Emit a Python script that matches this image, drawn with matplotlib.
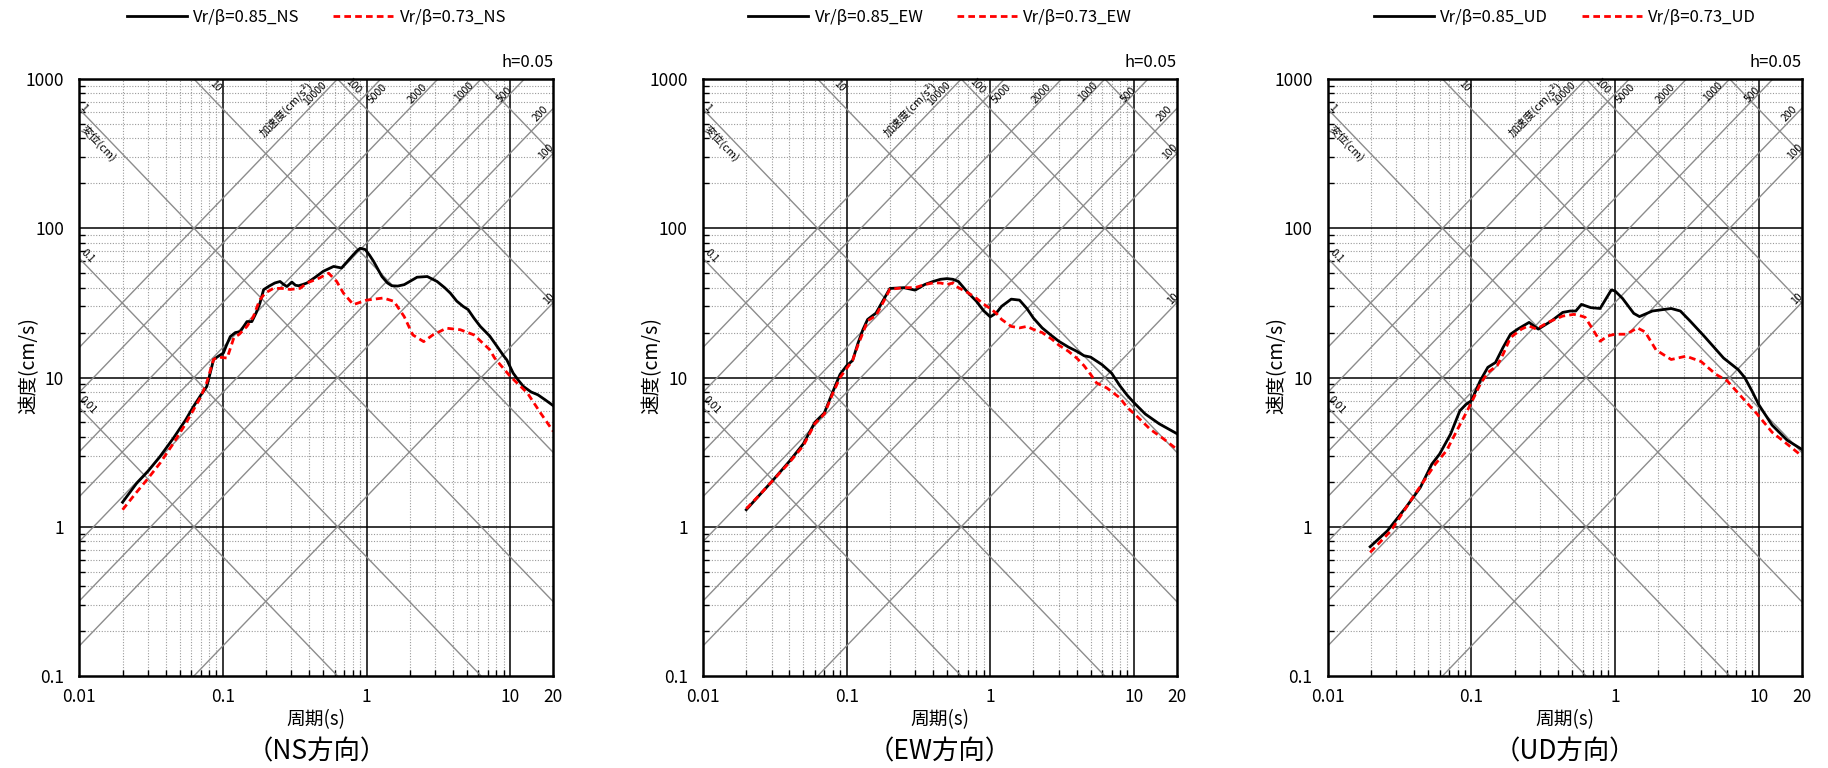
# %%
import matplotlib.pyplot as plt
import numpy as np
from matplotlib.ticker import FixedLocator, NullFormatter

plt.rcParams['font.family'] = ['Noto Sans CJK JP', 'DejaVu Sans']

OUTPUT_PNG = "out.png"

# ---- spectra (period s, velocity cm/s) ----
ns_085_t = [0.02, 0.025, 0.03, 0.0365, 0.045, 0.055, 0.0624, 0.07, 0.0772, 0.0861, 0.093, 0.1008,
            0.106, 0.1125, 0.122, 0.132, 0.147, 0.159, 0.17, 0.181, 0.192, 0.21, 0.23, 0.25, 0.265,
            0.279, 0.302, 0.32, 0.336, 0.36, 0.385, 0.44, 0.50, 0.59, 0.67, 0.77, 0.85, 0.905, 0.98,
            1.05, 1.12, 1.28, 1.4, 1.5, 1.65, 1.83, 2.0, 2.25, 2.65, 3.1, 3.5, 3.83, 4.25, 4.7, 5.1,
            5.6, 6.2, 7.2, 8.1, 9.0, 9.5, 10.5, 11.5, 12.4, 14.0, 15.6, 17.5, 20.0]
ns_085_v = [1.46, 1.95, 2.35, 2.96, 3.9, 5.2, 6.4, 7.6, 8.7, 13.2, 13.9, 14.6,
            16.5, 18.8, 20.0, 20.3, 23.7, 23.7, 27.0, 31.5, 38.8, 41.0, 43.0, 44.0, 42.0,
            40.7, 43.6, 41.5, 41.2, 42.0, 43.0, 47.0, 51.5, 55.5, 54.2, 63.0, 70.0, 73.5, 72.0,
            66.0, 60.0, 47.5, 43.0, 41.2, 41.0, 41.9, 44.0, 47.0, 47.5, 44.0, 40.0, 36.8, 32.5, 30.0, 28.5,
            25.0, 22.0, 19.0, 16.2, 14.0, 13.1, 10.7, 9.5, 8.7, 8.0, 7.66, 7.1, 6.47]

ns_073_t = [0.02, 0.025, 0.03, 0.0365, 0.045, 0.055, 0.0624, 0.07, 0.077, 0.086, 0.093, 0.107,
            0.119, 0.13, 0.147, 0.163, 0.18, 0.197, 0.225, 0.26, 0.294, 0.345, 0.385, 0.47, 0.545,
            0.62, 0.69, 0.81, 1.0, 1.31, 1.55, 1.83, 2.1, 2.5, 2.9, 3.6, 4.5, 5.6, 7.2, 7.8, 10.0,
            13.2, 16.3, 20.0]
ns_073_v = [1.30, 1.7, 2.1, 2.67, 3.6, 4.9, 6.08, 7.4, 9.2, 13.2, 13.7, 13.5,
            18.4, 19.5, 22.0, 25.6, 33.0, 36.8, 39.6, 39.5, 38.9, 39.6, 43.0, 46.4, 50.0,
            44.0, 36.8, 30.8, 33.0, 34.1, 32.4, 25.6, 19.3, 17.4, 19.3, 21.4, 20.9, 19.3, 15.4, 13.5, 10.2,
            7.87, 5.78, 4.35]

ew_085_t = [0.02, 0.025, 0.03, 0.04, 0.05, 0.06, 0.07, 0.08, 0.09, 0.1, 0.11, 0.12, 0.13, 0.14,
            0.16, 0.18, 0.2, 0.25, 0.3, 0.35, 0.4, 0.45, 0.5, 0.55, 0.6, 0.7, 0.8, 0.9, 1.0, 1.1,
            1.2, 1.4, 1.6, 1.8, 2.0, 2.3, 2.6, 3.0, 3.5, 4.0, 4.5, 5.0, 6.0, 7.0, 8.0, 9.0, 10.0,
            12.0, 15.0, 20.0]
ew_085_v = [1.30, 1.65, 2.0, 2.75, 3.6, 5.0, 5.8, 8.0, 10.5, 12.0, 13.0, 17.0, 21.0, 24.5,
            27.0, 33.0, 39.5, 40.0, 38.5, 42.0, 44.0, 45.5, 46.0, 45.5, 44.0, 37.0, 32.5, 28.0, 25.5, 27.0,
            30.0, 33.5, 33.0, 29.0, 25.0, 21.5, 19.5, 17.5, 16.0, 15.0, 14.0, 13.7, 12.2, 10.7, 8.8, 7.6, 6.8,
            5.7, 4.9, 4.2]

ew_073_t = [0.02, 0.025, 0.03, 0.04, 0.05, 0.06, 0.07, 0.08, 0.09, 0.1, 0.11, 0.12, 0.13, 0.14,
            0.16, 0.18, 0.2, 0.25, 0.3, 0.35, 0.4, 0.45, 0.5, 0.55, 0.6, 0.7, 0.8, 0.9, 1.0, 1.1,
            1.2, 1.4, 1.6, 1.8, 2.0, 2.3, 2.7, 3.0, 3.5, 4.0, 4.5, 5.0, 5.5, 6.5, 8.0, 9.0, 10.5,
            13.0, 16.0, 20.0]
ew_073_v = [1.32, 1.65, 2.0, 2.7, 3.5, 4.9, 5.7, 7.8, 10.0, 11.5, 13.0, 16.5, 20.0, 24.0,
            26.0, 32.0, 39.0, 40.0, 40.0, 42.0, 43.0, 43.0, 42.0, 43.0, 40.0, 37.0, 34.0, 31.0, 29.0, 27.0,
            24.5, 22.0, 21.5, 22.0, 21.0, 20.0, 18.0, 16.5, 15.0, 13.5, 12.0, 10.5, 9.2, 8.5, 7.3, 6.3, 5.5,
            4.5, 3.9, 3.3]

ud_085_t = [0.0197, 0.026, 0.035, 0.044, 0.053, 0.06, 0.0715, 0.083, 0.0915, 0.1, 0.115, 0.13,
            0.147, 0.166, 0.187, 0.21, 0.252, 0.292, 0.36, 0.432, 0.487, 0.533, 0.583, 0.677, 0.787,
            0.942, 1.0, 1.127, 1.35, 1.48, 1.82, 2.46, 2.85, 3.32, 4.2, 5.7, 7.2, 8.0, 9.0, 10.0,
            12.4, 15.8, 20.0]
ud_085_v = [0.735, 0.94, 1.35, 1.83, 2.63, 3.07, 4.17, 5.98, 6.6, 7.0, 9.5, 11.7,
            12.6, 15.9, 19.5, 21.1, 23.4, 21.1, 23.9, 27.3, 27.9, 27.9, 30.9, 29.4, 29.0,
            38.6, 38.0, 33.9, 26.9, 25.6, 27.9, 29.0, 27.9, 24.0, 18.8, 13.5, 11.3, 10.0, 8.1, 6.6,
            4.8, 3.8, 3.3]

ud_073_t = [0.0197, 0.0275, 0.039, 0.056, 0.067, 0.081, 0.091, 0.1, 0.115, 0.13, 0.151, 0.166,
            0.187, 0.223, 0.25, 0.284, 0.34, 0.432, 0.517, 0.583, 0.62, 0.7, 0.787, 0.89, 1.0,
            1.2, 1.43, 1.62, 1.93, 2.46, 3.12, 3.97, 5.04, 6.04, 7.67, 9.75, 12.4, 15.8, 20.0]
ud_073_v = [0.673, 0.94, 1.57, 2.63, 3.23, 4.6, 5.7, 6.8, 9.0, 10.8, 12.0, 14.3,
            18.5, 21.1, 22.2, 21.1, 23.4, 25.8, 26.5, 25.8, 25.3, 21.0, 17.5, 19.0, 19.5,
            19.5, 21.5, 20.2, 15.3, 13.2, 13.9, 12.8, 10.5, 9.5, 7.35, 5.7, 4.3, 3.58, 2.98]

panels = [
    ("NS", (ns_085_t, ns_085_v), (ns_073_t, ns_073_v)),
    ("EW", (ew_085_t, ew_085_v), (ew_073_t, ew_073_v)),
    ("UD", (ud_085_t, ud_085_v), (ud_073_t, ud_073_v)),
]

# tripartite guide lines
disp_lines = [0.01, 0.1, 1, 10, 100, 1000]          # cm
acc_lines = [10, 100, 200, 500, 1000, 2000, 5000, 10000]  # cm/s2

# guide labels: (text, kind, value, period, dx_pt, dy_pt, size)
guide_labels = [
    ("1", "d", 1, 0.0107, 0, 4, 7.5),
    ("0.1", "d", 0.1, 0.0115, 0, 8, 7.5),
    ("0.01", "d", 0.01, 0.0115, 0, 8, 7.5),
    ("10", "d", 10, 0.08, 4.5, 6, 7.5),
    ("100", "d", 100, 0.75, 3.7, 3, 7.5),
    ("変位(cm)", "d", 1, 0.0135, 0, -11, 8),
    ("加速度(cm/s²)", "a", 10000, 0.276, 0, 17, 8),
    ("10000", "a", 10000, 0.44, 0, 6, 7.5),
    ("5000", "a", 5000, 1.19, 0, -8, 7.5),
    ("2000", "a", 2000, 2.26, 0, 5, 7.5),
    ("1000", "a", 1000, 4.78, 0, 4, 7.5),
    ("500", "a", 500, 9.13, 0, 3.5, 7.5),
    ("200", "a", 200, 16.3, 0, 6, 7.5),
    ("100", "a", 100, 17.8, 0, 6.5, 7.5),
    ("10", "a", 10, 18.6, 0, 6, 7.5),
]

T_MIN, T_MAX = 0.01, 20
V_MIN, V_MAX = 0.1, 1000
GUIDE_COLOR = "#8c8c8c"


def _line_v(kind, value, t):
    if kind == "d":
        return 2 * np.pi * value / t
    return value * t / (2 * np.pi)


def draw_tripartite(ax):
    t_ends = np.array([T_MIN, T_MAX])
    for d in disp_lines:
        ax.plot(t_ends, _line_v("d", d, t_ends), color=GUIDE_COLOR, lw=1.0, zorder=2)
    for a in acc_lines:
        ax.plot(t_ends, _line_v("a", a, t_ends), color=GUIDE_COLOR, lw=1.0, zorder=2)

    for text, kind, value, t, dx, dy, size in guide_labels:
        rot = -46 if kind == "d" else 46
        ax.annotate(text, xy=(t, _line_v(kind, value, t)), xytext=(dx, dy),
                    textcoords="offset points", rotation=rot, ha="center", va="center",
                    rotation_mode="anchor", fontsize=size, color="black", zorder=3,
                    annotation_clip=False)


def setup_axes(ax):
    ax.set_xscale("log")
    ax.set_yscale("log")
    ax.set_xlim(T_MIN, T_MAX)
    ax.set_ylim(V_MIN, V_MAX)

    x_major = [0.01, 0.1, 1, 10, 20]
    ax.xaxis.set_major_locator(FixedLocator(x_major))
    ax.set_xticklabels(["0.01", "0.1", "1", "10", "20"])
    y_major = [0.1, 1, 10, 100, 1000]
    ax.yaxis.set_major_locator(FixedLocator(y_major))
    ax.set_yticklabels(["0.1", "1", "10", "100", "1000"])

    minor = [m * 10.0 ** e for e in range(-2, 3) for m in range(2, 10)]
    ax.xaxis.set_minor_locator(FixedLocator([v for v in minor if T_MIN < v < T_MAX]))
    ax.yaxis.set_minor_locator(FixedLocator([v for v in minor if V_MIN < v < V_MAX]))
    ax.xaxis.set_minor_formatter(NullFormatter())
    ax.yaxis.set_minor_formatter(NullFormatter())

    ax.tick_params(which="major", direction="in", length=0, labelsize=12.5, pad=9)
    ax.tick_params(axis="y", which="major", pad=11)
    ax.tick_params(which="minor", direction="in", length=4, width=1.0, color="black")

    for v in [0.1, 1, 10]:
        ax.axvline(v, color="black", lw=1.1, zorder=1.5)
    for v in [1, 10, 100]:
        ax.axhline(v, color="black", lw=1.1, zorder=1.5)
    ax.grid(which="minor", color="#9a9a9a", lw=0.8, linestyle=(0, (1, 1.5)), zorder=1)
    ax.set_axisbelow(True)

    for sp in ax.spines.values():
        sp.set_linewidth(1.8)
        sp.set_color("black")
        sp.set_zorder(5)


def main():
    fig = plt.figure(figsize=(18.28, 7.68), dpi=100)
    lefts = [0.0434, 0.3846, 0.7264]
    width, bottom, height = 0.2593, 0.1198, 0.7773

    for left, (comp, (t1, v1), (t2, v2)) in zip(lefts, panels):
        ax = fig.add_axes([left, bottom, width, height])
        setup_axes(ax)
        draw_tripartite(ax)

        ax.plot(t1, v1, color="black", lw=2.0, label=f"Vr/β=0.85_{comp}", zorder=4)
        ax.plot(t2, v2, color="#ff0000", lw=2.0, linestyle=(0, (2.4, 1.5)),
                label=f"Vr/β=0.73_{comp}", zorder=4.5)

        ax.set_xlabel("周期(s)", fontsize=13.5)
        ax.xaxis.set_label_coords(0.5, -0.055)
        ax.set_ylabel("速度(cm/s)", fontsize=14)
        ax.yaxis.set_label_coords(-0.085, 0.52)

        ax.text(1.0, 1.013, "h=0.05", transform=ax.transAxes, ha="right", va="bottom",
                fontsize=12)
        ax.text(0.5, -0.127, f"（{comp}方向）", transform=ax.transAxes, ha="center",
                va="center", fontsize=19)
        ax.legend(loc="center", bbox_to_anchor=(0.5, 1.103), ncol=2, frameon=False,
                  fontsize=12, handlelength=3.6, handletextpad=0.4, columnspacing=2.0)

    fig.savefig(OUTPUT_PNG, dpi=100)


if __name__ == "__main__":
    main()
# %%
